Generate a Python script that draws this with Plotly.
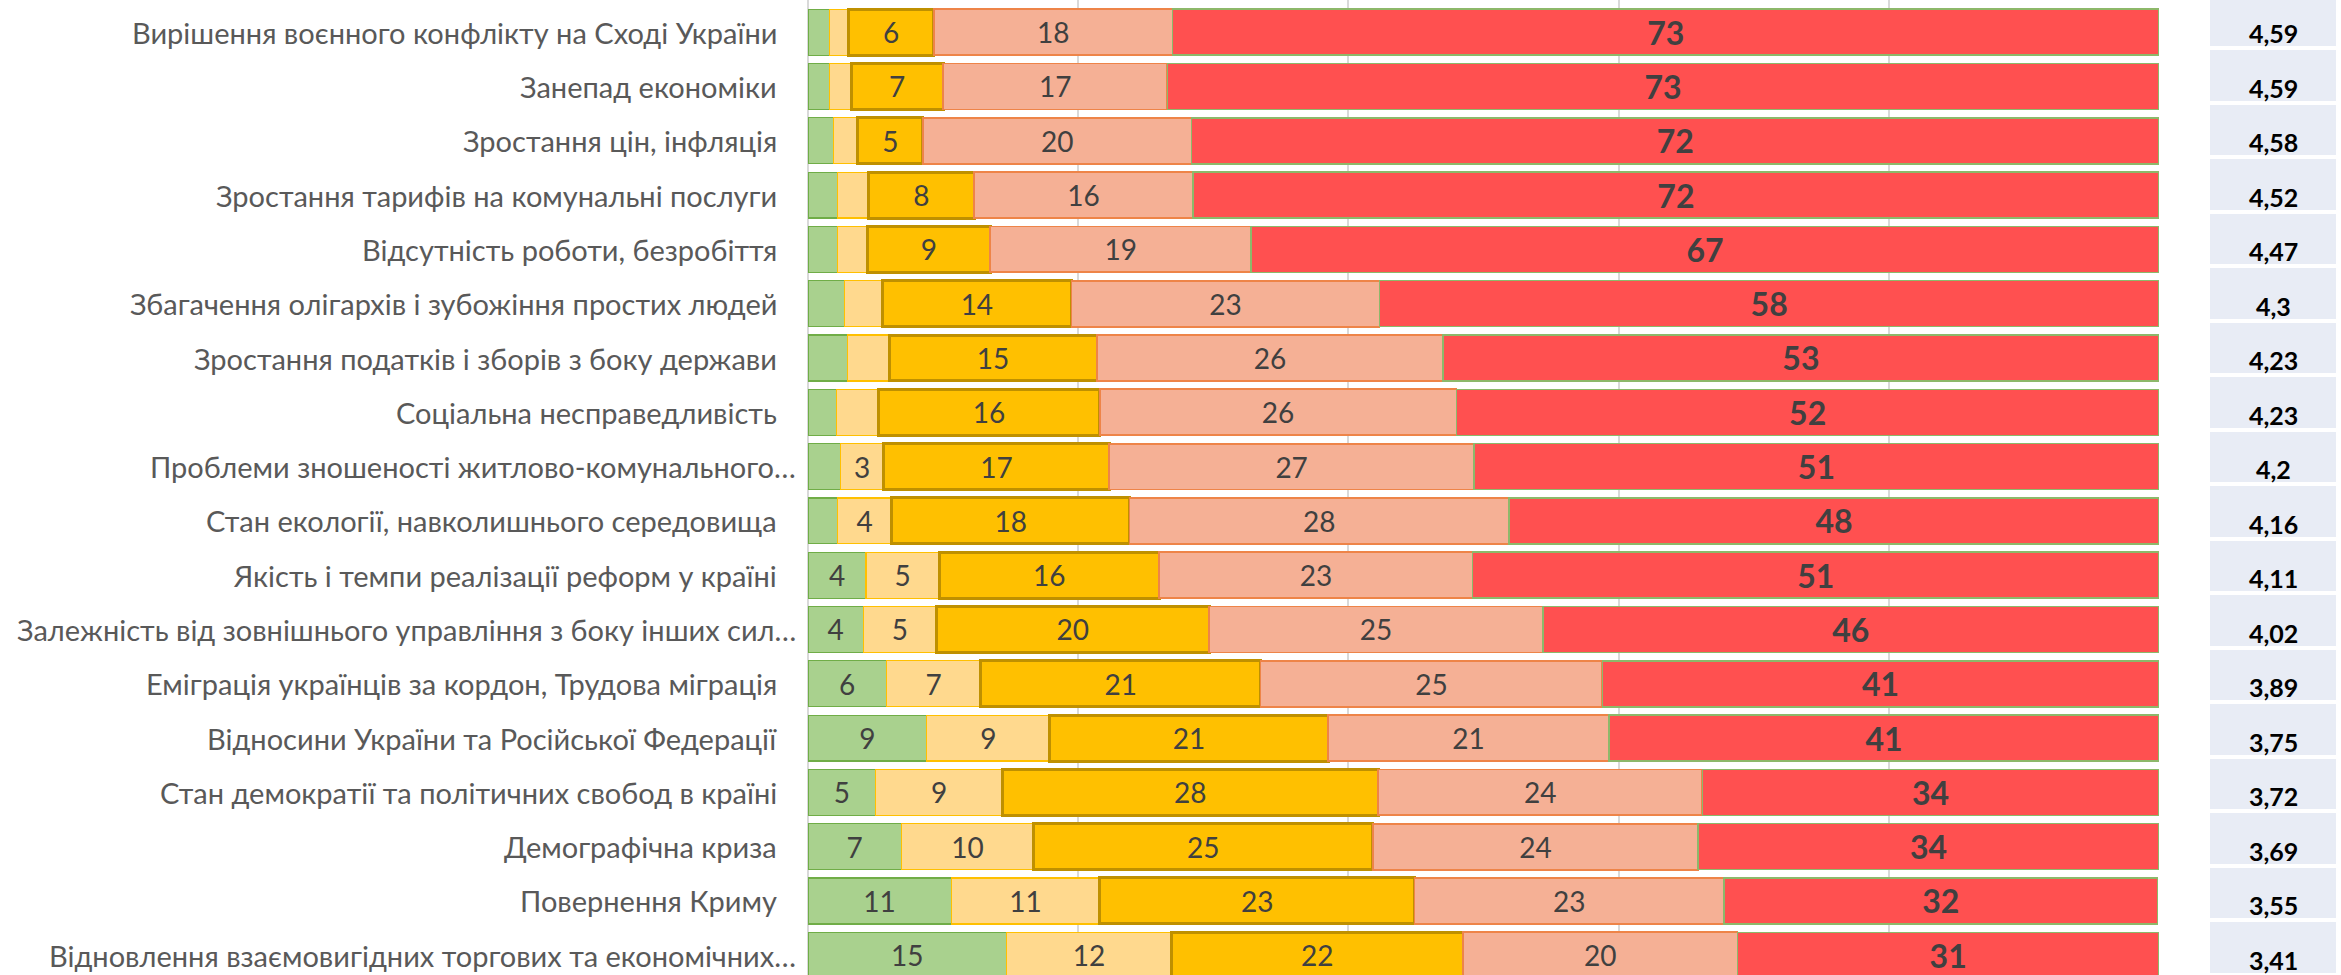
import plotly.graph_objects as go

categories = [
    "Вирішення воєнного конфлікту на Сході України",
    "Занепад економіки",
    "Зростання цін, інфляція",
    "Зростання тарифів на комунальні послуги",
    "Відсутність роботи, безробіття",
    "Збагачення олігархів і зубожіння простих людей",
    "Зростання податків і зборів з боку держави",
    "Соціальна несправедливість",
    "Проблеми зношеності житлово-комунального…",
    "Стан екології, навколишнього середовища",
    "Якість і темпи реалізації реформ у країні",
    "Залежність від зовнішнього управління з боку інших сил…",
    "Еміграція українців за кордон, Трудова міграція",
    "Відносини України та Російської Федерації",
    "Стан демократії та політичних свобод в країні",
    "Демографічна криза",
    "Повернення Криму",
    "Відновлення взаємовигідних торгових та економічних…",
]

green = [1.6, 1.6, 1.9, 2.2, 2.2, 2.7, 2.9, 2.1, 2.4, 2.2, 4.3, 4.1, 5.8, 8.8, 5.0, 6.9, 10.6, 14.7]
light_yellow = [1.4, 1.6, 1.8, 2.3, 2.2, 2.8, 3.1, 3.1, 3.2, 4.0, 5.4, 5.4, 7.0, 9.1, 9.4, 9.8, 11.0, 12.2]
orange = [6.3, 6.8, 4.8, 7.8, 9.1, 14.0, 15.4, 16.4, 16.7, 17.6, 16.3, 20.2, 20.7, 20.6, 27.8, 25.1, 23.3, 21.6]
salmon = [17.7, 16.6, 19.9, 16.2, 19.3, 22.8, 25.6, 26.4, 27.0, 28.1, 23.2, 24.7, 25.3, 20.8, 24.0, 24.1, 22.9, 20.3]
red = [73.0, 73.4, 71.6, 71.5, 67.2, 57.7, 53.0, 52.0, 50.7, 48.1, 50.8, 45.6, 41.2, 40.7, 33.8, 34.1, 32.1, 31.2]

scores = [4.59, 4.59, 4.58, 4.52, 4.47, 4.3, 4.23, 4.23, 4.2, 4.16, 4.11, 4.02, 3.89, 3.75, 3.72, 3.69, 3.55, 3.41]

FONT = "Lato, 'Open Sans', sans-serif"
LABEL_MIN = 3.15


def labels(vals):
    return [str(int(v + 0.5)) if v >= LABEL_MIN else "" for v in vals]


series = [
    (green, "#A9D18E", "#70AD47", 1.2, False),
    (light_yellow, "#FFD98E", "#FFC000", 1.2, False),
    (orange, "#FFC000", "#BF9000", 3, False),
    (salmon, "#F5B095", "#EE8448", 1.8, False),
    (red, "#FF5050", "#8DB86A", 1.5, True),
]

BAR_W = 0.847
fig = go.Figure()
for vals, fill, edge, lw, bold in series:
    fig.add_trace(go.Bar(
        y=categories, x=vals, orientation="h", width=BAR_W,
        marker=dict(color=fill, line=dict(color=edge, width=lw)),
        text=labels(vals), textposition="inside", insidetextanchor="middle",
        textangle=0, constraintext="none",
        textfont=dict(family=FONT, size=32 if bold else 28, color="#404040",
                      weight="bold" if bold else "normal"),
        hoverinfo="skip", cliponaxis=False,
    ))

# score boxes on a second x/y axis pair (slightly different row pitch)
fig.add_trace(go.Bar(
    y=categories, x=[1] * len(categories), orientation="h",
    xaxis="x2", yaxis="y2", width=0.934, offset=-0.687,
    marker=dict(color="#E8ECF5", line=dict(width=0)),
    hoverinfo="skip",
))

annotations = []
for i, c in enumerate(categories):
    trunc = c.endswith("…")
    annotations.append(dict(
        x=(798 if trunc else 779) / 2341, xref="paper", xanchor="right",
        y=c, yref="y", yanchor="middle", showarrow=False, text=c,
        font=dict(family=FONT, size=29, color="#595959"),
    ))
    annotations.append(dict(
        x=0.5, xref="x2", xanchor="center", y=c, yref="y2", yanchor="middle",
        showarrow=False, text=f"{scores[i]:g}".replace(".", ","),
        font=dict(family=FONT, size=25, color="#000000", weight="bold"),
        borderpad=0,
    ))

fig.update_layout(
    width=2341, height=975,
    margin=dict(l=0, r=0, t=0, b=0),
    paper_bgcolor="white", plot_bgcolor="white",
    barmode="stack", showlegend=False,
    annotations=annotations,
    xaxis=dict(domain=[808 / 2341, 2159 / 2341], range=[0, 100.01], dtick=20,
               showgrid=True, gridcolor="#D9D9D9", gridwidth=1.5,
               zeroline=True, zerolinecolor="#D9D9D9", zerolinewidth=2,
               showticklabels=False, ticks="", fixedrange=True),
    xaxis2=dict(domain=[2210 / 2341, 2336 / 2341], range=[0, 1], anchor="y2",
                showgrid=False, zeroline=False, showticklabels=False, ticks=""),
    yaxis=dict(type="category", categoryorder="array", categoryarray=categories,
               range=[17.363, -0.593], showgrid=False, zeroline=False,
               showticklabels=False, ticks=""),
    yaxis2=dict(type="category", categoryorder="array", categoryarray=categories,
                range=[17.284, -0.606], overlaying="y", anchor="x2",
                showgrid=False, zeroline=False, showticklabels=False, ticks=""),
)

fig.write_html("out.html", config={"displayModeBar": False},
               post_script="document.body.style.margin='0';")
